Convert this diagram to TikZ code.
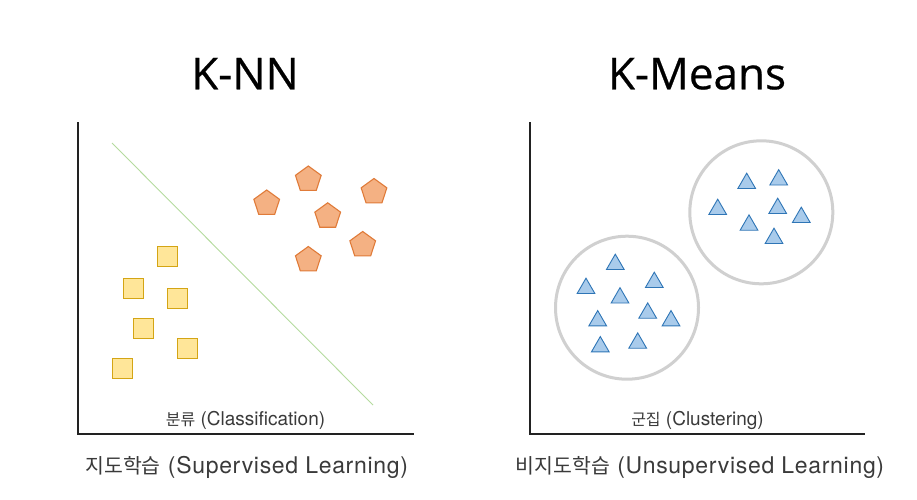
\documentclass[tikz,border=0pt]{standalone}
\usepackage{fontspec}
\setmainfont{TeX Gyre Heros}
\newfontfamily\kr{Noto Sans CJK KR}
\newfontfamily\titlefont[FakeBold=0.5]{Open Sans}
\newfontfamily\lab[LetterSpace=3]{TeX Gyre Heros}
\usetikzlibrary{shapes.geometric}
\definecolor{axisc}{HTML}{222222}
\definecolor{pentfill}{HTML}{F4B183}
\definecolor{pentdraw}{HTML}{E07B39}
\definecolor{sqfill}{HTML}{FFE699}
\definecolor{sqdraw}{HTML}{D4A514}
\definecolor{trifill}{HTML}{A9CBEB}
\definecolor{tridraw}{HTML}{2E75B6}
\definecolor{circc}{HTML}{D0D0D0}
\definecolor{sepc}{HTML}{B5DB9E}
\definecolor{textc}{HTML}{3A3A3A}
\tikzset{
  axisline/.style={draw=axisc, line width=2pt},
  pent/.style={regular polygon, regular polygon sides=5, minimum size=27pt, inner sep=0pt, fill=pentfill, draw=pentdraw, line width=1.1pt},
  sq/.style={rectangle, minimum size=20pt, inner sep=0pt, fill=sqfill, draw=sqdraw, line width=1.1pt},
  tri/.style={regular polygon, regular polygon sides=3, minimum size=20.5pt, inner sep=0pt, fill=trifill, draw=tridraw, line width=0.9pt, yshift=-2.6pt},
  clus/.style={circle, minimum size=143pt, inner sep=0pt, draw=circc, line width=3pt},
  title/.style={font=\titlefont\fontsize{44}{50}\selectfont, text=black, anchor=base, inner sep=0pt},
  sublabel/.style={font=\lab\fontsize{23}{27}\selectfont, text=textc, anchor=base, inner sep=0pt},
  innerlabel/.style={font=\fontsize{19}{22}\selectfont, text=textc, anchor=base, inner sep=0pt},
}
\begin{document}
\begin{tikzpicture}[x=1pt,y=-1pt]
\useasboundingbox[fill=white] (0,0) rectangle (917,499);
% titles
\node[title] (t1) at (245,89.3) {K-NN};
\node[title] (t2) at (697,89.3) {K-Means};
% left axes
\coordinate (la) at (78,122);
\coordinate (lo) at (78,434);
\coordinate (lb) at (414,434);
\draw[axisline] (la) -- (lo) -- (lb);
% separator
\coordinate (s1) at (112,143);
\coordinate (s2) at (373,405);
\draw[sepc, line width=0.9pt] (s1) -- (s2);
% squares
\node[sq] (q1) at (167.3,256.3) {};
\node[sq] (q2) at (133.3,288.8) {};
\node[sq] (q3) at (177.2,298.8) {};
\node[sq] (q4) at (143.3,328.5) {};
\node[sq] (q5) at (187.2,348.5) {};
\node[sq] (q6) at (122.7,368.3) {};
% pentagons
\node[pent] (p1) at (266.7,203.5) {};
\node[pent] (p2) at (308.3,179.5) {};
\node[pent] (p3) at (374,192) {};
\node[pent] (p4) at (327.7,216.3) {};
\node[pent] (p5) at (362.7,245) {};
\node[pent] (p6) at (308.3,260) {};
\node[innerlabel] (il) at (245.5,425.7) {{\kr\fontsize{16}{20}\selectfont 분류} (Classification)};
% right axes
\coordinate (ra) at (530,122);
\coordinate (ro) at (530,434);
\coordinate (rb) at (865,434);
\draw[axisline] (ra) -- (ro) -- (rb);
% clusters
\node[clus] (c1) at (627,307.7) {};
\node[clus] (c2) at (761.3,212.3) {};
% upper triangles
\node[tri] (u1) at (746.7,180.8) {};
\node[tri] (u2) at (778.7,177.3) {};
\node[tri] (u3) at (717.7,206.8) {};
\node[tri] (u4) at (777.7,205.8) {};
\node[tri] (u5) at (801.3,214.8) {};
\node[tri] (u6) at (749,222.5) {};
\node[tri] (u7) at (774,235.8) {};
% lower triangles
\node[tri] (d1) at (615.3,261.8) {};
\node[tri] (d2) at (586,285.8) {};
\node[tri] (d3) at (654.3,279.8) {};
\node[tri] (d4) at (620,295.3) {};
\node[tri] (d5) at (597.7,318.2) {};
\node[tri] (d6) at (647.7,310.5) {};
\node[tri] (d7) at (671,318.2) {};
\node[tri] (d8) at (600.3,344.2) {};
\node[tri] (d9) at (637.7,340.5) {};
\node[innerlabel] (ir) at (697.5,425.7) {{\kr\fontsize{16}{20}\selectfont 군집} (Clustering)};
% bottom labels
\node[sublabel] (b1) at (246.7,473.3) {{\kr\fontsize{20.5}{24}\selectfont 지도학습} (Supervised Learning)};
\node[sublabel] (b2) at (700,473.3) {{\kr\fontsize{20.5}{24}\selectfont 비지도학습} (Unsupervised Learning)};
\end{tikzpicture}
\end{document}
